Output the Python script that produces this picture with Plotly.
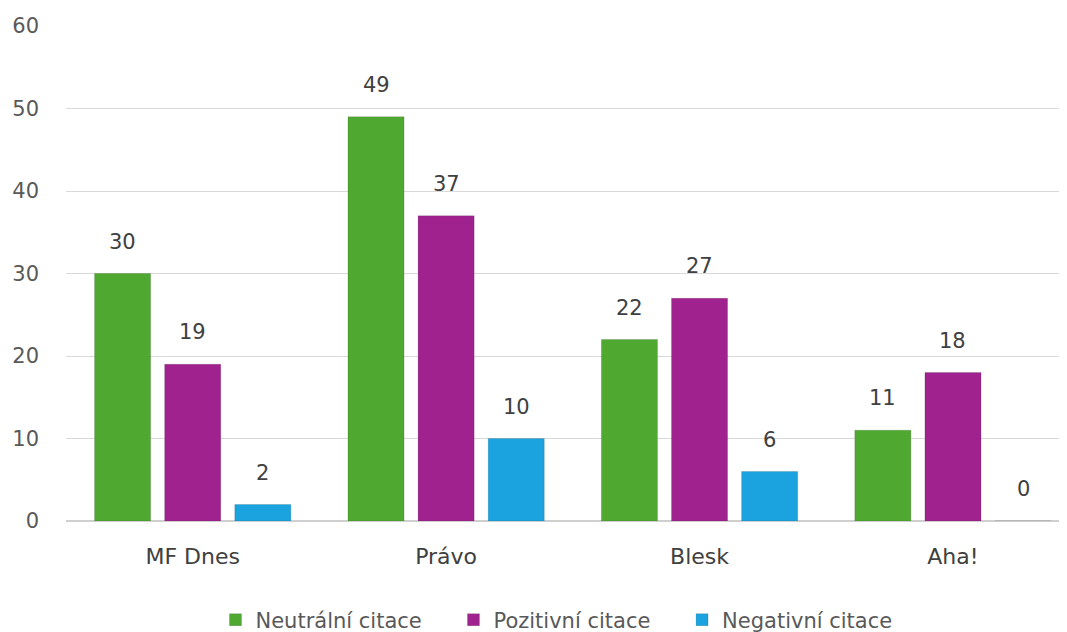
import plotly.graph_objects as go

categories = ["MF Dnes", "Právo", "Blesk", "Aha!"]
neutral = [30, 49, 22, 11]
positive = [19, 37, 27, 18]
negative = [2, 10, 6, 0]
series_names = ["Neutrální citace", "Pozitivní citace", "Negativní citace"]
colors = ["#4fa82f", "#a0228f", "#1aa3df"]
y_ticks = [0, 10, 20, 30, 40, 50, 60]

series = [neutral, positive, negative]
bargap = 0.17
FONT = "DejaVu Sans"

fig = go.Figure()
for k, (name, vals, col) in enumerate(zip(series_names, series, colors)):
    pad = "\u00a0" * 4 if k < len(series_names) - 1 else ""
    fig.add_trace(go.Bar(
        x=categories, y=vals, name=name + pad,
        marker=dict(color=col, line=dict(color="rgba(0,0,0,0.12)", width=1)),
    ))

annotations = []
slot = (1 - bargap) / 3
for i, vals in enumerate(series):
    for j, v in enumerate(vals):
        annotations.append(dict(
            x=j + (i - 1) * slot, y=v, xref="x", yref="y",
            text=str(v), showarrow=False, yanchor="bottom",
            yshift=18, font=dict(size=21, color="#404040", family=FONT),
        ))

fig.update_layout(
    width=1059, height=624,
    margin=dict(l=58, r=0, t=18, b=111, autoexpand=False),
    paper_bgcolor="white", plot_bgcolor="white",
    barmode="group", bargap=bargap, bargroupgap=0.2,
    annotations=annotations,
    showlegend=True,
    legend=dict(orientation="h", x=0.49, xanchor="center", y=-0.2, yanchor="middle",
                font=dict(size=21, color="#595959", family=FONT),
                itemwidth=30, traceorder="normal"),
    xaxis=dict(type="category", range=[-0.5, 3.45], showgrid=False, automargin=False,
               showline=False, ticks="", ticklabelstandoff=20,
               tickfont=dict(size=22, color="#404040", family=FONT)),
    yaxis=dict(range=[0, 60], tickvals=y_ticks, showgrid=True, gridcolor="#d9d9d9",
               gridwidth=1, zeroline=True, zerolinecolor="#cfcfcf", zerolinewidth=2,
               ticks="", ticklabelstandoff=26, automargin=False,
               tickfont=dict(size=21, color="#595959", family=FONT)),
    font=dict(family=FONT),
)

fig.write_html("out.html")
